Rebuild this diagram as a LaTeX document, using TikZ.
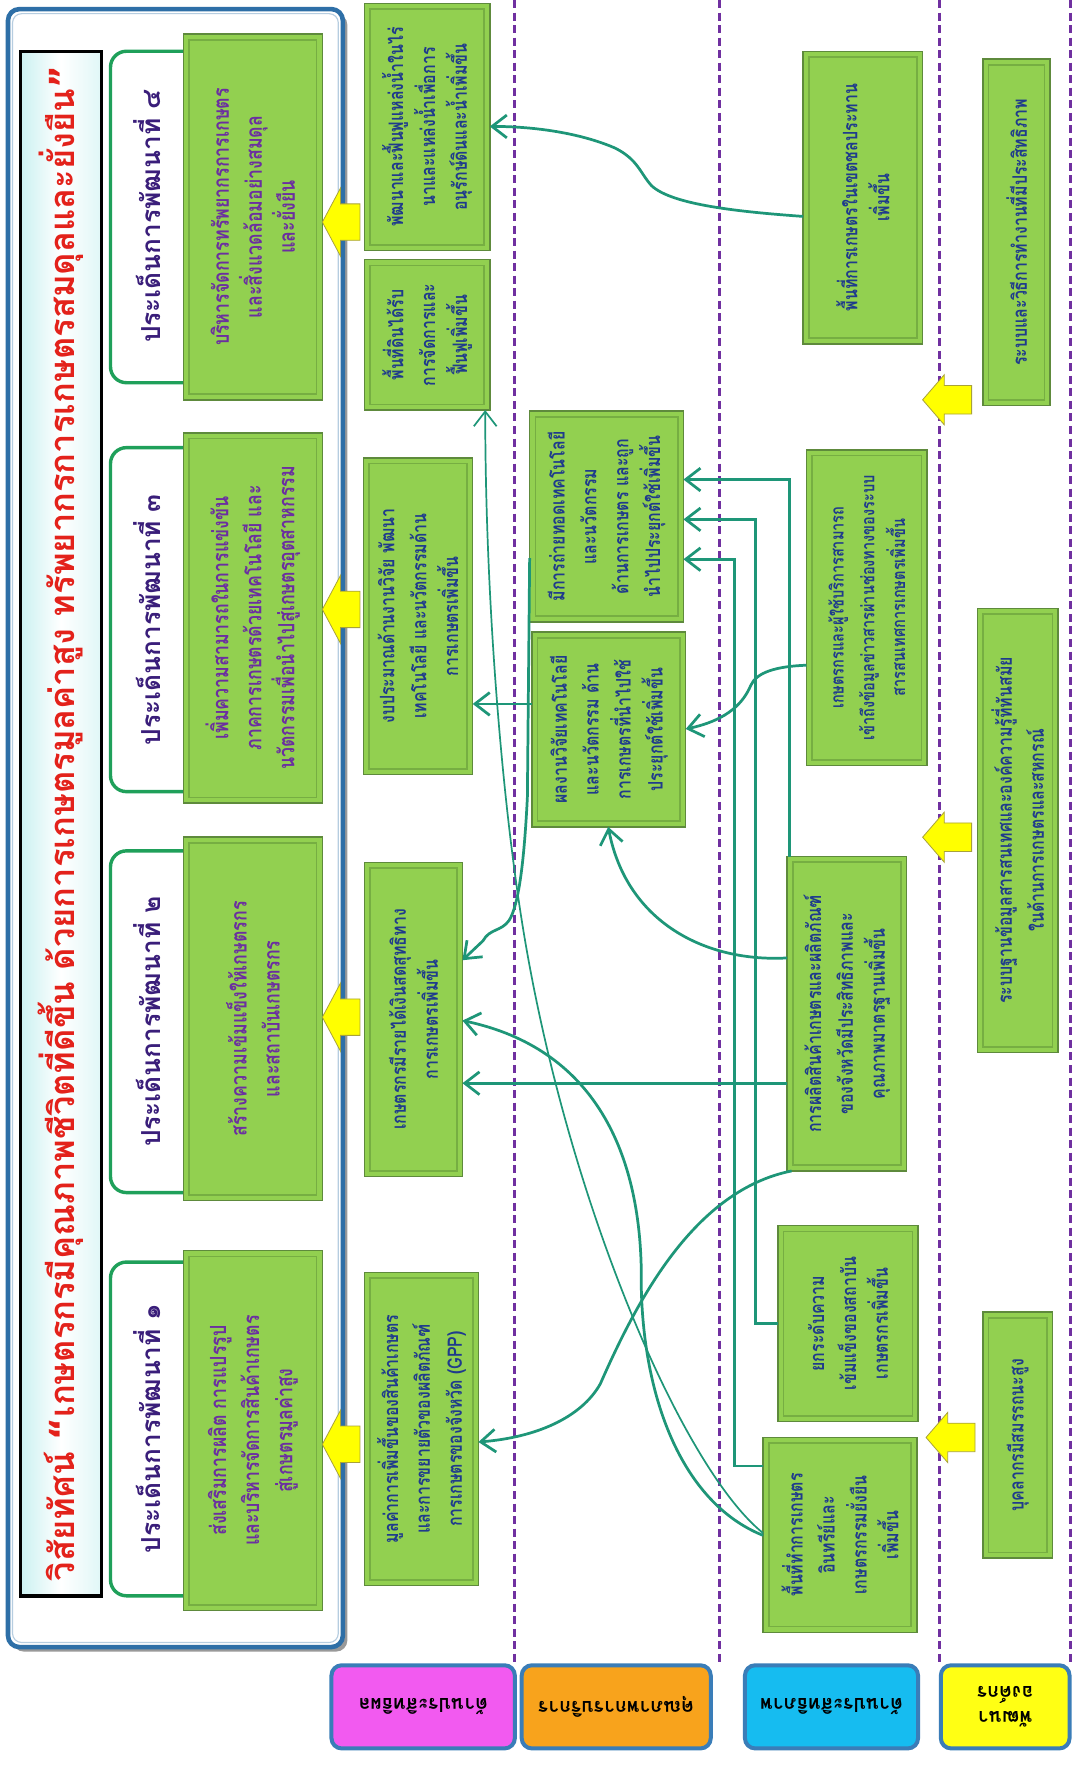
\documentclass[tikz,border=0pt]{standalone}
\usepackage{fontspec}
\usepackage{graphicx}
\newfontfamily\thaifont[Script=Thai]{Loma}
\newfontfamily\thainarrow[Script=Thai, FakeStretch=0.8]{Loma}
\newfontfamily\qfont{DejaVu Sans}
\usetikzlibrary{arrows.meta,fit,calc}

\definecolor{gfill}{HTML}{92D050}
\definecolor{gbord}{HTML}{5E8A3C}
\definecolor{gbev}{HTML}{76AE42}
\definecolor{btxt}{HTML}{1F3B8C}
\definecolor{ptxt}{HTML}{6B2FA0}
\definecolor{htxt}{HTML}{3A1E7A}
\definecolor{titred}{HTML}{E3221B}
\definecolor{connc}{HTML}{1E9678}
\definecolor{dashc}{HTML}{7030A0}
\definecolor{frameb}{HTML}{2E6FA7}
\definecolor{thgreen}{HTML}{1FA05A}
\definecolor{labb}{HTML}{3A7DB8}
\definecolor{labpink}{HTML}{F25AF0}
\definecolor{laborange}{HTML}{F8A31C}
\definecolor{labblue}{HTML}{16BCF0}
\definecolor{labyellow}{HTML}{FFFF14}
\definecolor{arrowy}{HTML}{FFFF00}
\definecolor{arrowyb}{HTML}{A8A23A}
\definecolor{titc}{HTML}{CBF1F1}

\tikzset{
  gboxst/.style={draw=gbord, line width=1.3pt, fill=gfill, inner sep=0pt, outer sep=0pt},
  gbevst/.style={draw=gbev, line width=1.4pt},
  boxtxt/.style={rotate=90, align=center, inner sep=0pt, text=btxt,
    font=\thainarrow\bfseries\fontsize{17.5pt}{28pt}\selectfont},
  thtxt/.style={text=ptxt, font=\thainarrow\bfseries\fontsize{19.5pt}{29pt}\selectfont},
  smalltxt/.style={font=\thainarrow\bfseries\fontsize{16pt}{27pt}\selectfont},
  headbox/.style={draw=thgreen, line width=3pt, rounded corners=14pt, fill=white, inner sep=0pt},
  headtxt/.style={rotate=90, inner sep=0pt, text=htxt,
    font=\thaifont\bfseries\fontsize{23pt}{28pt}\selectfont},
  yarrowst/.style={fill=arrowy, draw=arrowyb, line width=0.7pt, line join=miter},
  labst/.style={draw=labb, line width=3.5pt, rounded corners=9pt, inner sep=0pt},
  labtxt/.style={rotate=180, align=center, inner sep=0pt, text=black,
    font=\thaifont\bfseries\fontsize{17pt}{22pt}\selectfont},
  conn/.style={draw=connc, line width=2.4pt,
    -{Straight Barb[length=13pt, width=20pt]}},
  connthin/.style={conn, line width=1.5pt},
  dashl/.style={draw=dashc, line width=2.6pt, dash pattern=on 7pt off 4pt}
}

\newcommand\greenbox[7]{%
  \node[gboxst, fit={(#2,#3) (#4,#5)}] (#1) {};
  \draw[gbevst] ([xshift=5pt,yshift=-5pt]#1.north west) rectangle ([xshift=-5pt,yshift=5pt]#1.south east);
  \node[boxtxt, #6] (#1t) at (#1.center) {#7};
}
% big block arrow pointing left: tip x, centre y
\newcommand\bigyarrow[2]{%
  \filldraw[yarrowst] (#1,#2) -- ++(16,-30) -- ++(0,14) -- ++(17,0) -- ++(0,32)
    -- ++(-17,0) -- ++(0,14) -- cycle;
}
\newcommand\smallyarrow[2]{%
  \filldraw[yarrowst] (#1,#2) -- ++(19,-22) -- ++(0,9.5) -- ++(24,0) -- ++(0,25)
    -- ++(-24,0) -- ++(0,9.5) -- cycle;
}

\begin{document}
\begin{tikzpicture}[x=1pt, y=-1pt]
\useasboundingbox (0,0) rectangle (942,1568);
\fill[white] (0,0) rectangle (942,1568);

% ---------- vision frame ----------
\fill[black!40, rounded corners=10pt] (11,12) rectangle (305,1450);
\draw[frameb, line width=4pt, fill=white, rounded corners=10pt] (7,8) rectangle (301,1446);
\draw[frameb!35, line width=1pt, rounded corners=8pt] (11,12) rectangle (297,1442);

\node[fit={(18,45) (89,1401)}, draw=black, line width=3pt, inner sep=0pt,
  left color=titc, right color=titc!60, middle color=white] (titlebox) {};
\node[rotate=90, inner sep=0pt, text=titred, font=\thaifont\bfseries\fontsize{30pt}{34pt}\selectfont]
  (titletxt) at (titlebox.center)
  {\resizebox{1330pt}{!}{วิสัยทัศน์ {\qfont “}เกษตรกรมีคุณภาพชีวิตที่ดีขึ้น ด้วยการเกษตรมูลค่าสูง ทรัพยากรการเกษตรสมดุลและยั่งยืน{\qfont ”}}};

% ---------- development themes ----------
\node[headbox, fit={(97,45) (178,336)}] (H4) {};
\node[headbox, fit={(97,393) (178,695)}] (H3) {};
\node[headbox, fit={(97,747) (178,1047)}] (H2) {};
\node[headbox, fit={(97,1108) (178,1401)}] (H1) {};

\greenbox{T4}{161}{30}{283}{351}{thtxt}{บริหารจัดการทรัพยากรการเกษตร\\และสิ่งแวดล้อมอย่างสมดุล\\และยั่งยืน}
\greenbox{T3}{161}{380}{283}{705}{thtxt}{เพิ่มความสามารถในการแข่งขัน\\ภาคการเกษตรด้วยเทคโนโลยี และ\\นวัตกรรมเพื่อนำไปสู่เกษตรอุตสาหกรรม}
\greenbox{T2}{161}{735}{283}{1054}{thtxt}{สร้างความเข้มแข็งให้เกษตรกร\\และสถาบันเกษตรกร}
\greenbox{T1}{161}{1098}{283}{1414}{thtxt}{ส่งเสริมการผลิต การแปรรูป\\และบริหารจัดการสินค้าเกษตร\\สู่เกษตรมูลค่าสูง}

\node[headtxt] (H4t) at (129,190) {ประเด็นการพัฒนาที่ ๔};
\node[headtxt] (H3t) at (129,544) {ประเด็นการพัฒนาที่ ๓};
\node[headtxt] (H2t) at (129,897) {ประเด็นการพัฒนาที่ ๒};
\node[headtxt] (H1t) at (129,1254) {ประเด็นการพัฒนาที่ ๑};

\bigyarrow{283}{195}
\bigyarrow{283}{535}
\bigyarrow{283}{893}
\bigyarrow{283}{1268}

% ---------- separators ----------
\draw[dashl] (452,0) -- (452,1462);
\draw[dashl] (632,0) -- (632,1462);
\draw[dashl] (825,0) -- (825,1462);
\draw[dashl] (940,0) -- (940,1462);

% ---------- effectiveness ----------
\greenbox{E1}{320}{3}{430}{220}{}{พัฒนาและฟื้นฟูแหล่งน้ำในไร่\\นาและแหล่งน้ำเพื่อการ\\อนุรักษ์ดินและน้ำเพิ่มขึ้น}
\greenbox{E2}{320}{228}{430}{360}{}{พื้นที่ดินได้รับ\\การจัดการและ\\ฟื้นฟูเพิ่มขึ้น}
\greenbox{E3}{319}{402}{415}{680}{}{งบประมาณด้านงานวิจัย พัฒนา\\เทคโนโลยี และนวัตกรรมด้าน\\การเกษตรเพิ่มขึ้น}
\greenbox{E4}{320}{757}{406}{1033}{}{เกษตรกรมีรายได้เงินสดสุทธิทาง\\การเกษตรเพิ่มขึ้น}
\greenbox{E5}{320}{1117}{420}{1392}{}{มูลค่าการเพิ่มขึ้นของสินค้าเกษตร\\และการขยายตัวของผลิตภัณฑ์\\การเกษตรของจังหวัด (GPP)}

% ---------- service quality ----------
\greenbox{Q1}{465}{361}{600}{546}{}{มีการถ่ายทอดเทคโนโลยี\\และนวัตกรรม\\ด้านการเกษตร และถูก\\นำไปประยุกต์ใช้เพิ่มขึ้น}
\greenbox{Q2}{467}{555}{602}{726}{}{ผลงานวิจัยเทคโนโลยี\\และนวัตกรรม ด้าน\\การเกษตรที่นำไปใช้\\ประยุกต์ใช้เพิ่มขึ้น}

% ---------- efficiency ----------
\greenbox{F1}{705}{45}{810}{302}{}{พื้นที่การเกษตรในเขตชลประทาน\\เพิ่มขึ้น}
\greenbox{F2}{708}{395}{814}{672}{smalltxt}{เกษตรกรและผู้ใช้บริการสามารถ\\เข้าถึงข้อมูลข่าวสารผ่านช่องทางของระบบ\\สารสนเทศการเกษตรเพิ่มขึ้น}
\greenbox{F3}{691}{752}{796}{1028}{}{การผลิตสินค้าเกษตรและผลิตภัณฑ์\\ของจังหวัดมีประสิทธิภาพและ\\คุณภาพมาตรฐานเพิ่มขึ้น}
\greenbox{F4}{683}{1076}{806}{1248}{}{ยกระดับความ\\เข้มแข็งของสถาบัน\\เกษตรกรเพิ่มขึ้น}
\greenbox{F5}{670}{1262}{805}{1433}{}{พื้นที่ทำการเกษตร\\อินทรีย์และ\\เกษตรกรรมยั่งยืน\\เพิ่มขึ้น}

% ---------- learning and growth ----------
\greenbox{L1}{863}{52}{922}{356}{}{ระบบและวิธีการทำงานที่มีประสิทธิภาพ}
\greenbox{L2}{858}{534}{929}{924}{}{ระบบฐานข้อมูลสารสนเทศและองค์ความรู้ที่ทันสมัย\\ในด้านการเกษตรและสหกรณ์}
\greenbox{L3}{863}{1152}{924}{1368}{}{บุคลากรมีสมรรถนะสูง}

\smallyarrow{810}{351}
\smallyarrow{810}{735}
\smallyarrow{813}{1262}

% ---------- perspective labels ----------
\node[labst, fill=labpink, fit={(291,1462) (452,1535)}] (lab1) {};
\node[labst, fill=laborange, fit={(458,1462) (624,1535)}] (lab2) {};
\node[labst, fill=labblue, fit={(654,1462) (806,1535)}] (lab3) {};
\node[labst, fill=labyellow, fit={(826,1462) (939,1535)}] (lab4) {};
\node[labtxt] (lab1t) at (lab1.center) {ด้านประสิทธิผล};
\node[labtxt] (lab2t) at (lab2.center) {คุณภาพการบริการ};
\node[labtxt] (lab3t) at (lab3.center) {ด้านประสิทธิภาพ};
\node[labtxt] (lab4t) at (lab4.center) {พัฒนา\\องค์กร};

% ---------- connectors ----------
\draw[conn] (F1.west |- 0,190) .. controls (650,186) and (590,180) .. (572,163)
  .. controls (562,152) and (560,140) .. (540,130)
  .. controls (510,117) and (470,111) .. (E1.east |- 0,111);
\draw[conn] (Q2.west |- 0,618) -- (E3.east |- 0,618);
\draw[conn] (F3.north -| 693,0) |- (Q1.east |- 0,421);
\draw[conn] (F4.west |- 0,1162) -| (663,456) -- (Q1.east |- 0,456);
\draw[conn] (F5.west |- 0,1287) -| (645,491) -- (Q1.east |- 0,491);
\draw[conn] (F2.west |- 0,584) .. controls (682,585) and (664,590) .. (659,602)
  .. controls (653,616) and (640,632) .. (Q2.east |- 0,640);
\draw[conn] (F3.west |- 0,841) .. controls (620,845) and (550,810) .. (Q2.south -| 534,0);
\draw[conn] (F3.west |- 0,951) -- (E4.east |- 0,951);
\draw[conn] (F5.west |- 0,1348) .. controls (600,1320) and (565,1230) .. (563,1130)
  .. controls (565,1010) and (520,920) .. (E4.east |- 0,896);
\draw[conn] (F3.south -| 695,0) .. controls (610,1045) and (560,1140) .. (527,1215)
  .. controls (510,1245) and (470,1262) .. (E5.east |- 0,1266);
\draw[connthin] (F5.west |- 0,1346) .. controls (600,1290) and (500,1060) .. (460,820)
  .. controls (440,700) and (426,520) .. (E2.south -| 426,0);
\draw[conn] (Q1.west |- 0,490) -- (463,700) .. controls (460,760) and (455,795) .. (447,808)
  .. controls (440,818) and (430,815) .. (424,826) -- (E4.east |- 0,843);
\end{tikzpicture}
\end{document}
